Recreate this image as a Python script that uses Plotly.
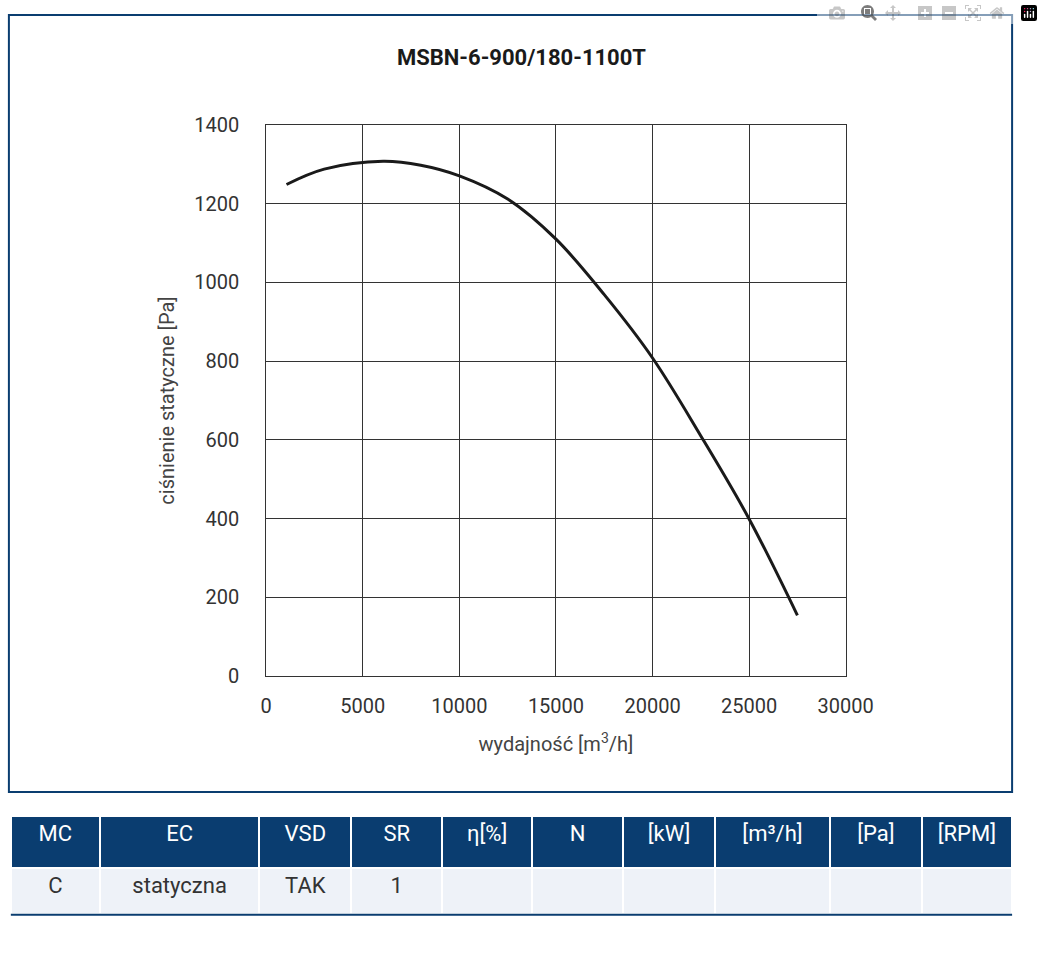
import plotly.graph_objects as go

W, H = 1043, 957

# curve
flow = [1050, 3000, 6050, 8000, 10000, 12500, 15000, 17500, 20000, 22500, 25000, 27500]
pressure = [1249, 1288, 1308, 1298, 1271, 1212, 1110, 969, 808, 610, 399, 154]

x_ticks = [0, 5000, 10000, 15000, 20000, 25000, 30000]
y_ticks = [0, 200, 400, 600, 800, 1000, 1200, 1400]

headers = ["MC", "EC", "VSD", "SR", "η[%]", "N", "[kW]", "[m³/h]", "[Pa]", "[RPM]"]
row_vals = ["C", "statyczna", "TAK", "1", "", "", "", "", "", ""]
col_px = [92, 165, 95, 94, 93, 94, 95, 119, 95, 93]

navy = "#0a3d70"
font = "Roboto"


def px_x(p):
    return p / W


def px_y(p):
    return 1 - p / H


fig = go.Figure()

fig.add_trace(go.Scatter(
    x=flow, y=pressure, mode="lines", line=dict(color="#1a1a1a", width=3, shape="spline"),
    showlegend=False, hoverinfo="skip",
))

fig.add_trace(go.Table(
    domain=dict(x=[px_x(5), px_x(1040)], y=[px_y(925), px_y(825)]),
    columnwidth=col_px,
    header=dict(values=headers, fill_color=navy, height=52, align="center",
                line=dict(color="white", width=2),
                font=dict(family=font, size=22, color="white")),
    cells=dict(values=[[v] for v in row_vals], fill_color="#eef2f8", height=48, align="center",
               line=dict(color="white", width=2),
               font=dict(family=font, size=22, color="#333333")),
))

fig.update_layout(
    width=W, height=H, margin=dict(l=0, r=0, t=0, b=0),
    paper_bgcolor="white", plot_bgcolor="white",
    font=dict(family=font, size=20, color="#333333"),
    title=dict(text="<b>MSBN-6-900/180-1100T</b>", x=0.5, xanchor="center", y=px_y(57), yanchor="middle",
               font=dict(family=font, size=22, color="#1a1a1a")),
    xaxis=dict(domain=[px_x(269), px_x(868)], range=[0, 30000], tickvals=x_ticks,
               ticktext=[str(v) for v in x_ticks],
               showgrid=True, gridcolor="#333333", gridwidth=1, showline=True, linecolor="#333333",
               mirror=True, zeroline=False, ticks="", ticklabelstandoff=12,
               title=dict(text="wydajność [m<sup>3</sup>/h]", font=dict(size=20, color="#444444"), standoff=20)),
    yaxis=dict(domain=[px_y(681), px_y(116)], range=[0, 1400], tickvals=y_ticks,
               showgrid=True, gridcolor="#333333", gridwidth=1, showline=True, linecolor="#333333",
               mirror=True, zeroline=False, ticks="", ticklabelstandoff=22,
               title=dict(text="ciśnienie statyczne [Pa]", font=dict(size=20, color="#444444"), standoff=14)),
    shapes=[
        dict(type="rect", xref="paper", yref="paper", x0=px_x(3), x1=px_x(1040), y0=px_y(800), y1=px_y(3),
             line=dict(color=navy, width=2)),
        dict(type="line", xref="paper", yref="paper", x0=px_x(5), x1=px_x(1040), y0=px_y(926), y1=px_y(926),
             line=dict(color=navy, width=2)),
    ],
)

fig.write_html("out.html", post_script="document.body.style.margin='0';document.body.style.overflow='hidden';")
